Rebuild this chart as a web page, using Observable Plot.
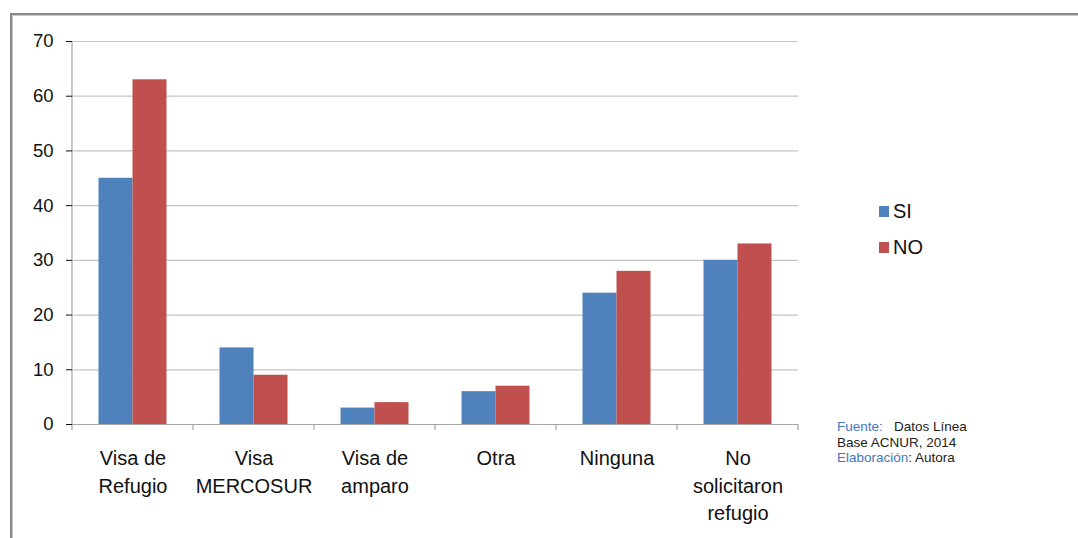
<!DOCTYPE html>
<html>
<head>
<meta charset="utf-8">
<script src="https://cdn.jsdelivr.net/npm/d3@7"></script>
<script src="https://cdn.jsdelivr.net/npm/@observablehq/plot@0.6"></script>
<style>
  html, body { margin: 0; padding: 0; background: #fff; }
  #wrap { position: relative; width: 1078px; height: 538px; overflow: hidden; font-family: "Liberation Sans", Arial, sans-serif; }
  #frame { position: absolute; left: 10px; top: 13px; width: 1100px; height: 600px; border-top: 2px solid #8a8a8a; border-left: 2px solid #8a8a8a; box-shadow: inset 1px 1px 0 #c8c8c8; }
  #chart { position: absolute; left: 0; top: 0; }
  #legend { position: absolute; left: 879px; top: 198px; font-size: 20px; color: #111; }
  #legend .item { display: flex; align-items: center; height: 26px; margin-bottom: 10px; }
  #legend .sw { width: 10px; height: 11px; margin-right: 4px; }
  #source { position: absolute; left: 837px; top: 419px; font-size: 13.5px; line-height: 15.5px; color: #222; }
  #source .b { color: #4178bd; }
</style>
</head>
<body>
<div id="wrap">
  <div id="frame"></div>
  <div id="chart"></div>
  <div id="legend"></div>
  <div id="source"></div>
</div>
<script>
const categories = ["Visa de Refugio", "Visa MERCOSUR", "Visa de amparo", "Otra", "Ninguna", "No solicitaron refugio"];
const categoryLabels = ["Visa de\nRefugio", "Visa\nMERCOSUR", "Visa de\namparo", "Otra", "Ninguna", "No\nsolicitaron\nrefugio"];
const series = ["SI", "NO"];
const valuesSI = [45, 14, 3, 6, 24, 30];
const valuesNO = [63, 9, 4, 7, 28, 33];
const yTicks = [0, 10, 20, 30, 40, 50, 60, 70];
const colors = ["#4f81bd", "#c0504d"];

const rows = [];
categories.forEach((c, i) => {
  rows.push({category: c, series: "SI", value: valuesSI[i]});
  rows.push({category: c, series: "NO", value: valuesNO[i]});
});
const labelOf = new Map(categories.map((c, i) => [c, categoryLabels[i]]));

const boundaryTicks = (index, scales) => {
  const x = scales.x, y = scales.y;
  const g = d3.create("svg:g").attr("stroke", "#a6a6a6").attr("stroke-width", 1.2);
  const xs = categories.map(c => x(c));
  const step = xs[1] - xs[0];
  xs.push(xs[xs.length - 1] + step);
  const y0 = y(0);
  for (const xv of xs) {
    g.append("line").attr("x1", xv).attr("x2", xv).attr("y1", y0).attr("y2", y0 + 6);
  }
  g.append("line").attr("x1", xs[0]).attr("x2", xs[0]).attr("y1", y(yTicks[yTicks.length - 1])).attr("y2", y0);
  return g.node();
};

const chart = Plot.plot({
  width: 1078,
  height: 538,
  marginLeft: 72,
  marginRight: 280,
  marginTop: 41,
  marginBottom: 114,
  style: {fontFamily: "Liberation Sans, Arial, sans-serif", background: "transparent", color: "#111"},
  x: {domain: categories, padding: 0, label: null},
  y: {domain: [0, 70], label: null},
  color: {domain: series, range: colors},
  marks: [
    Plot.gridY(yTicks, {stroke: "#c4c4c4", strokeOpacity: 1, strokeWidth: 1.2}),
    Plot.barY(rows.filter(d => d.series === "SI"), {x: "category", y: "value", fill: "series", insetLeft: 26.5, insetRight: 60.5}),
    Plot.barY(rows.filter(d => d.series === "NO"), {x: "category", y: "value", fill: "series", insetLeft: 60.5, insetRight: 26.5}),
    Plot.ruleY([0], {stroke: "#a6a6a6", strokeWidth: 1.2}),
    boundaryTicks,
    Plot.axisY(yTicks, {tickSize: 6, tickPadding: 13, fontSize: 18.5, fill: "#111", label: null}),
    Plot.axisX({tickSize: 0, tickPadding: 21, fontSize: 20, lineHeight: 1.38, fill: "#111", tickFormat: d => labelOf.get(d), label: null})
  ]
});
document.getElementById("chart").appendChild(chart);

const legend = document.getElementById("legend");
series.forEach((s, i) => {
  const item = document.createElement("div");
  item.className = "item";
  const sw = document.createElement("div");
  sw.className = "sw";
  sw.style.background = colors[i];
  const t = document.createElement("span");
  t.textContent = s;
  item.appendChild(sw);
  item.appendChild(t);
  legend.appendChild(item);
});

document.getElementById("source").innerHTML =
  '<span class="b">Fuente:</span>&nbsp;&nbsp; Datos Línea<br>Base ACNUR, 2014<br><span class="b">Elaboración</span>: Autora';
</script>
</body>
</html>
